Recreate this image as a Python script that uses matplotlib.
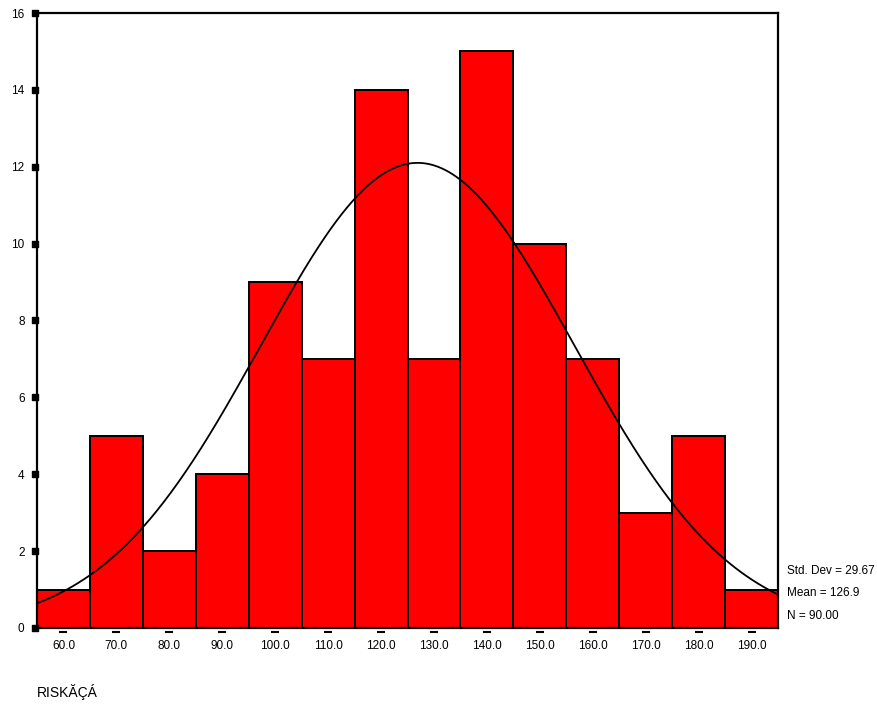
import numpy as np
import matplotlib.pyplot as plt
import matplotlib.transforms as mtransforms

plt.rcParams['font.family'] = ['Liberation Sans', 'DejaVu Sans']

# --- data ---
bin_centers = [60, 70, 80, 90, 100, 110, 120, 130, 140, 150, 160, 170, 180, 190]
counts = [1, 5, 2, 4, 9, 7, 14, 7, 15, 10, 7, 3, 5, 1]
bin_width = 10
mean = 126.9
std_dev = 29.67
n_obs = 90
xlabel = 'RISKĂÇÁ'
y_ticks = [0, 2, 4, 6, 8, 10, 12, 14, 16]

fig = plt.figure(figsize=(8.77, 7.04), dpi=100)
ax = fig.add_axes([0.0422, 0.108, 0.8450, 0.8735])

ax.bar(bin_centers, counts, width=bin_width, color='#ff0000',
       edgecolor='black', linewidth=1.4, zorder=2)

# fitted normal curve, scaled to counts
xs = np.linspace(55, 195, 400)
pdf = np.exp(-0.5 * ((xs - mean) / std_dev) ** 2) / (std_dev * np.sqrt(2 * np.pi))
ax.plot(xs, pdf * n_obs * bin_width, color='black', linewidth=1.3, zorder=3)

ax.set_xlim(55, 195)
ax.set_ylim(0, 16)

for s in ax.spines.values():
    s.set_linewidth(1.6)

# x ticks: short dashes a bit below the axis
ax.set_xticks(bin_centers)
ax.set_xticklabels([f'{v:.1f}' for v in bin_centers], fontsize=8.5)
ax.tick_params(axis='x', length=0, pad=9)
trans_x = mtransforms.blended_transform_factory(ax.transData, ax.transAxes)
ax.scatter(bin_centers, [-0.007] * len(bin_centers), marker='_', s=40,
           color='black', linewidths=1.5, transform=trans_x, clip_on=False, zorder=5)

# y ticks: small squares on the left spine
ax.set_yticks(y_ticks)
ax.set_yticklabels([str(v) for v in y_ticks], fontsize=8.5)
ax.tick_params(axis='y', length=0, pad=9)
trans_y = mtransforms.blended_transform_factory(ax.transAxes, ax.transData)
ax.scatter([-0.003] * len(y_ticks), y_ticks, marker='s', s=14,
           color='black', transform=trans_y, clip_on=False, zorder=5)

# stats box text
stats = [f'Std. Dev = {std_dev:.2f}', f'Mean = {mean:.1f}', f'N = {n_obs:.2f}']
for i, t in enumerate(stats):
    ax.text(1.012, 0.0927 - i * 0.0366, t, transform=ax.transAxes,
            fontsize=8.5, va='center', ha='left')

fig.text(37 / 877, 1 - 692 / 704, xlabel, fontsize=10, va='center', ha='left')

fig.savefig('out.png', dpi=100)
